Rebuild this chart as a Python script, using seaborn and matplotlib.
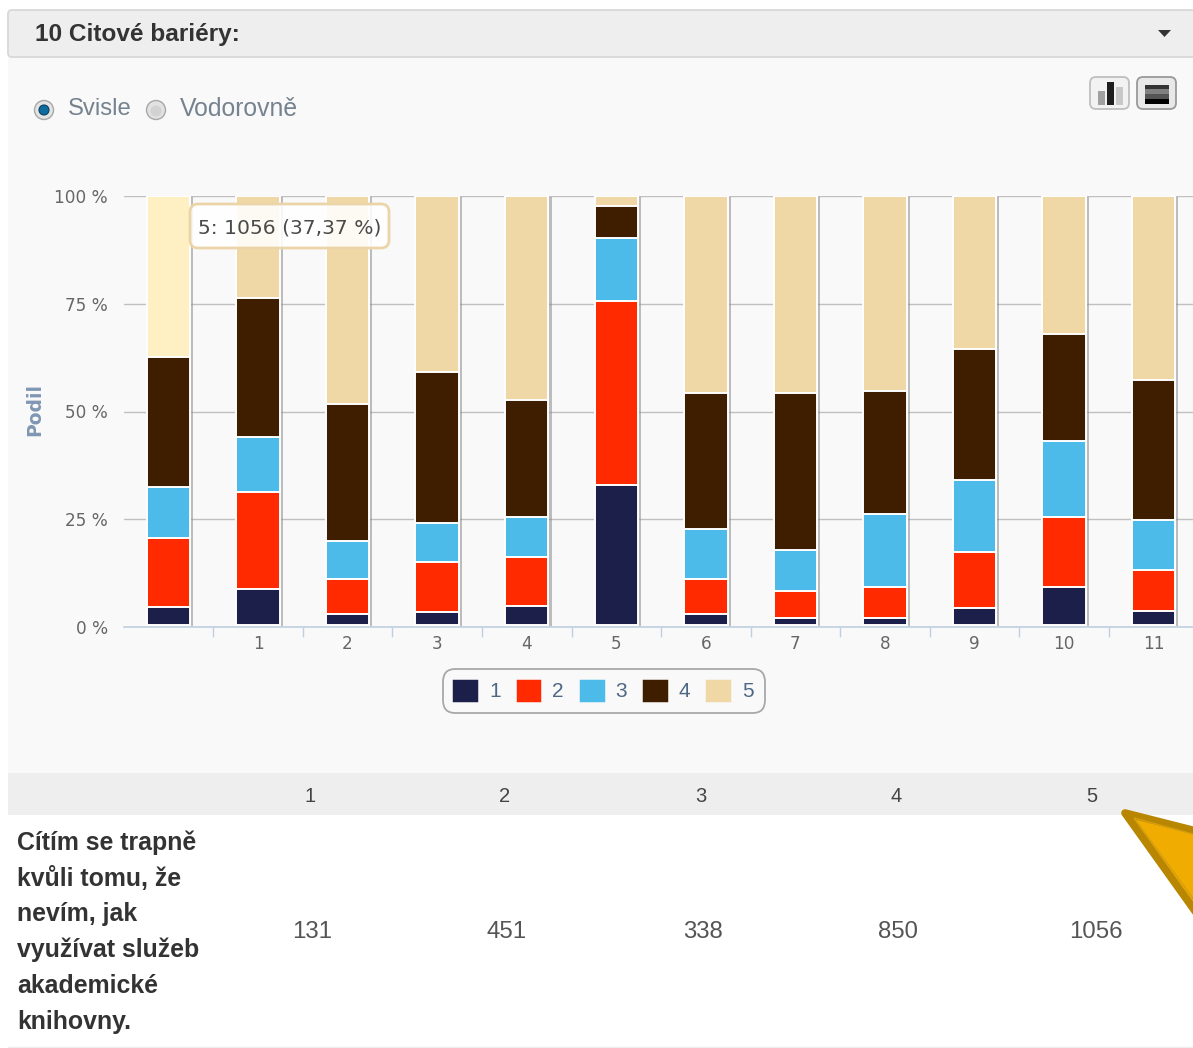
import numpy as np
import pandas as pd
import matplotlib
matplotlib.use("Agg")
import matplotlib.pyplot as plt
import matplotlib.patheffects as pe
from matplotlib.patches import FancyBboxPatch, Rectangle, Polygon, Circle, Patch
import seaborn as sns

W, H = 1193, 1048

# Share of answers per question (percent), one array per answer level
share_1 = [4.64, 8.8, 3.0, 3.5, 4.9, 32.9, 3.0, 2.1, 2.1, 4.4, 9.3, 3.7]
share_2 = [15.96, 22.5, 8.1, 11.6, 11.3, 42.7, 8.1, 6.3, 7.2, 13.0, 16.2, 9.5]
share_3 = [11.96, 12.8, 8.9, 9.0, 9.3, 14.7, 11.6, 9.5, 16.9, 16.7, 17.7, 11.6]
share_4 = [30.07, 32.2, 31.7, 35.1, 27.2, 7.4, 31.6, 36.4, 28.6, 30.4, 24.8, 32.5]
share_5 = [37.37, 23.7, 48.3, 40.8, 47.3, 2.3, 45.7, 45.7, 45.2, 35.5, 32.0, 42.7]
question_labels = ["", "1", "2", "3", "4", "5", "6", "7", "8", "9", "10", "11"]
answer_levels = ["1", "2", "3", "4", "5"]
level_colors = ["#1C1F4A", "#FF2A00", "#4DBBEA", "#3F1E00", "#F0D7A6"]
table_counts = [131, 451, 338, 850, 1056]

df = pd.DataFrame({"q": range(12), "1": share_1, "2": share_2, "3": share_3,
                   "4": share_4, "5": share_5})
cumulative = df[answer_levels].cumsum(axis=1)
BASE_GAP = 0.45  # bars float just above the axis line

sns.set_theme(style="white")
plt.rcParams["font.family"] = ["Liberation Sans", "DejaVu Sans"]

fig = plt.figure(figsize=(W / 100, H / 100), dpi=100, facecolor="white")


def pixel_axes(z):
    a = fig.add_axes([0, 0, 1, 1], zorder=z)
    a.set_xlim(0, W)
    a.set_ylim(H, 0)
    a.axis("off")
    return a


back = pixel_axes(-1)
over = pixel_axes(5)

# Page chrome behind the chart
back.add_patch(Rectangle((8, 57), W, 716, fc="#F9F9F9", ec="none"))
back.add_patch(FancyBboxPatch((8, 10), W, 47, boxstyle="round,pad=0,rounding_size=4",
                              fc="#EEEEEE", ec="#D8D8D8", lw=1.3))
back.add_patch(Rectangle((8, 773), W, 42, fc="#EEEEEE", ec="none"))
back.text(35, 34.5, "10 Citové bariéry:", fontsize=17.6, fontweight="bold",
          color="#333333", va="center")
back.add_patch(Polygon([(1158, 30), (1171, 30), (1164.5, 37)], fc="#333333", ec="none"))

# Orientation radio buttons
back.add_patch(Circle((44, 110), 9.5, fc="#E4E4E4", ec="#A8A8A8", lw=1))
back.add_patch(Circle((44, 110), 5, fc="#0F6C9E", ec="#0A3F60", lw=0.8))
back.add_patch(Circle((156, 110), 9.5, fc="#E2E2E2", ec="#A8A8A8", lw=1))
back.add_patch(Circle((156, 111), 5.5, fc="#D2D2D2", ec="none"))
back.text(68, 109, "Svisle", fontsize=17.2, color="#75828F", va="center")
back.text(180, 109, "Vodorovně", fontsize=17.8, color="#75828F", va="center")

# Chart-type toggle icons
for x0, edge, face in [(1090, "#BFBFBF", "#F2F2F2"), (1137, "#999999", "#E8E8E8")]:
    back.add_patch(FancyBboxPatch((x0, 77), 39, 32, boxstyle="round,pad=0,rounding_size=6",
                                  fc=face, ec=edge, lw=1.3))
for x0, y0, col in [(1098, 91, "#A0A0A0"), (1107, 82, "#1E1E1E"), (1116, 87, "#C8C8C8")]:
    back.add_patch(Rectangle((x0, y0), 7, 105 - y0, fc=col, ec="none"))
for y0, h, col in [(85, 4, "#333333"), (89, 5, "#808080"), (94, 5, "#555555"), (99, 5, "#000000")]:
    back.add_patch(Rectangle((1145, y0), 24, h, fc=col, ec="none"))

# Stacked percentage bars, tallest cumulative layer first
ax = fig.add_axes([124 / W, 1 - 627 / H, (W - 124) / W, (627 - 196) / H], zorder=1)
ax.patch.set_alpha(0)
ax.set_axisbelow(True)
for level, color in reversed(list(zip(answer_levels, level_colors))):
    before = len(ax.patches)
    sns.barplot(x=df["q"], y=cumulative[level] - BASE_GAP, bottom=BASE_GAP, color=color,
                width=0.485, saturation=1, edgecolor="white", linewidth=1.4,
                errorbar=None, ax=ax)
    if level == "5":
        for bar in ax.patches[before:]:
            bar.set_path_effects([pe.SimplePatchShadow(offset=(2.2, -1), shadow_rgbFace="#8A8A8A",
                                                       alpha=0.55), pe.Normal()])
        # first column is in its hover state
        ax.patches[before].set_facecolor("#FFF0C4")

ax.set_xlim(-0.497, (W - 168) / 89.6)
ax.set_ylim(0, 100)
ax.set_xlabel("")
ax.set_ylabel("")
ax.set_yticks([0, 25, 50, 75, 100], ["0 %", "25 %", "50 %", "75 %", "100 %"])
ax.set_xticks(range(12), question_labels)
ax.set_xticks(np.arange(0.5, 11.5), minor=True)
ax.yaxis.grid(True, color="#C0C0C0", lw=1)
ax.xaxis.grid(False)
ax.tick_params(axis="y", length=0, pad=11.5, labelsize=12.2, labelcolor="#666666")
ax.tick_params(axis="x", which="major", length=0, pad=6, labelsize=12.2, labelcolor="#666666")
ax.tick_params(axis="x", which="minor", length=7, width=1, color="#C0D0E0", bottom=True)
for side in ["top", "left", "right"]:
    ax.spines[side].set_visible(False)
ax.spines["bottom"].set_color("#C0D0E0")
ax.spines["bottom"].set_linewidth(1.2)
for label in ax.get_xticklabels() + ax.get_yticklabels():
    label.set_family("DejaVu Sans")

back.text(35, 409, "Podil", rotation=90, fontsize=13.5, fontweight="bold", color="#7F97B3",
          va="center", ha="center", family="DejaVu Sans")

# Legend
handles = [Patch(facecolor=c, edgecolor=c, linewidth=2.5, joinstyle="round") for c in level_colors]
legend = fig.legend(handles, answer_levels, ncol=5, loc="center", fontsize=15,
                    bbox_to_anchor=(604 / W, 1 - 691 / H), frameon=True, fancybox=True,
                    edgecolor="#A8A8A8", facecolor="#F9F9F9", framealpha=1,
                    handlelength=1.05, handleheight=1.05, handletextpad=0.62,
                    columnspacing=0.81, borderpad=0.55, labelcolor="#4D6785")
legend.get_frame().set_linewidth(1.3)
legend.get_frame().set_boxstyle("round", pad=0, rounding_size=0.6)

# Hover tooltip over the first column
over.add_patch(FancyBboxPatch((190, 204), 199, 44, boxstyle="round,pad=0,rounding_size=8",
                              fc=(1, 1, 1, 0.88), ec="#EBD5A8", lw=2))
over.text(198, 227.5, "5: 1056 (37,37 %)", fontsize=14.6, color="#4A4A4A", va="center",
          family="DejaVu Sans")

# Table under the chart
header_x = [310, 505, 701, 896, 1092]
value_x = [312, 507, 703, 898, 1096]
for x, level in zip(header_x, answer_levels):
    back.text(x, 796.5, level, fontsize=14.5, color="#444444", ha="center", va="center")
for x, count in zip(value_x, table_counts):
    back.text(x, 931.5, str(count), fontsize=17.3, color="#555555", ha="center", va="center")
row_lines = ["Cítím se trapně", "kvůli tomu, že", "nevím, jak", "využívat služeb",
             "akademické", "knihovny."]
for i, line in enumerate(row_lines):
    back.text(17, 843 + i * 35.7, line, fontsize=17.9, fontweight="bold", color="#333333",
              va="center")
back.plot([8, W], [1047, 1047], color="#EEEEEE", lw=1)

# Arrow callout entering from the right edge
over.add_patch(Polygon([(1125, 813), (1200, 832), (1200, 918)], closed=True, fc="#F0AC00",
                       ec="#B88600", lw=5.5, joinstyle="round"))
over.add_patch(Polygon([(1134, 818), (1200, 836), (1200, 908)], closed=True, fc="none",
                       ec="#D49E10", lw=1))

fig.savefig("out.png", dpi=100)
